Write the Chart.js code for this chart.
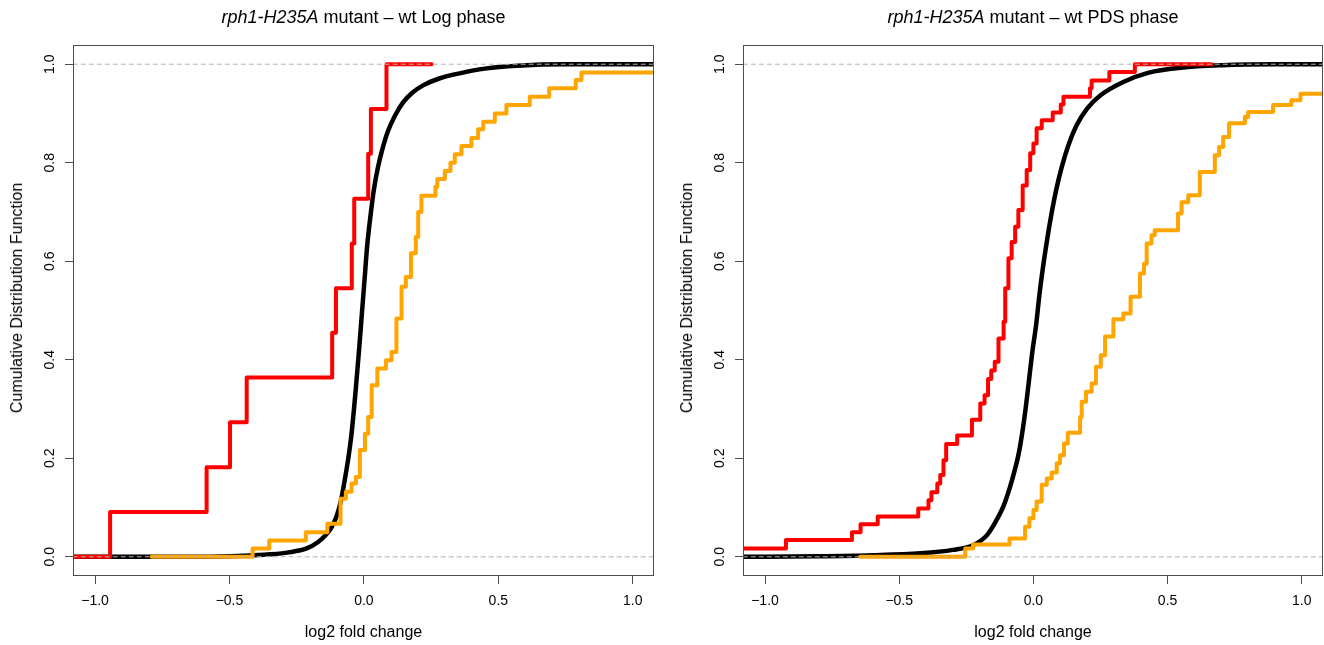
<!DOCTYPE html>
<html>
<head>
<meta charset="utf-8">
<script src="https://cdn.jsdelivr.net/npm/chart.js@4"></script>
<style>
html,body{margin:0;padding:0;background:#fff;}
#wrap{position:relative;width:1324px;height:645px;overflow:hidden;background:#fff;}
canvas{position:absolute;top:0;}
.title{position:absolute;top:6px;font-family:'Liberation Sans',Arial,Helvetica,sans-serif;font-size:18px;line-height:22px;color:#000;white-space:nowrap;transform:translateX(-50%);}
.ylab{position:absolute;font-family:'Liberation Sans',Arial,Helvetica,sans-serif;font-size:16px;line-height:20px;color:#000;white-space:nowrap;transform:translate(-50%,-50%) rotate(-90deg);}
</style>
</head>
<body>
<div id="wrap">
  <canvas id="cLog" width="662" height="645" style="left:0"></canvas>
  <canvas id="cPds" width="662" height="645" style="left:662px"></canvas>
  <div class="title" id="tLog" style="left:363.5px"></div>
  <div class="title" id="tPds" style="left:1033px"></div>
  <div class="ylab" id="yLog" style="left:17px;top:298px"></div>
  <div class="ylab" id="yPds" style="left:687px;top:298px"></div>
</div>
<script>
// ---------- data ----------
const titleItalic = ['rph1-H235A', 'rph1-H235A'];
const titleRest = [' mutant \u2013 wt Log phase', ' mutant \u2013 wt PDS phase'];
const xAxisTitle = 'log2 fold change';
const yAxisTitle = 'Cumulative Distribution Function';
const xTicks = [-1.0, -0.5, 0.0, 0.5, 1.0];
const yTicks = [0.0, 0.2, 0.4, 0.6, 0.8, 1.0];
const refLineX = [-1.2, 1.2];

// Log phase
const logRedX = [-1.10, -0.944, -0.585, -0.498, -0.436, -0.118, -0.104, -0.045, -0.036, 0.016, 0.026, 0.084, 0.252];
const logRedY = [0, 0.091, 0.182, 0.273, 0.364, 0.455, 0.545, 0.636, 0.727, 0.818, 0.909, 1.0, 1.0];
const logOrangeX = [-0.789, -0.414, -0.352, -0.216, -0.136, -0.087, -0.067, -0.046, -0.030, -0.015, 0.004, 0.016, 0.029, 0.050, 0.082, 0.103, 0.121, 0.140, 0.156, 0.175, 0.193, 0.202, 0.214, 0.266, 0.273, 0.301, 0.322, 0.338, 0.363, 0.400, 0.425, 0.444, 0.487, 0.530, 0.617, 0.689, 0.788, 0.809, 1.10];
const logOrangeY = [0, 0.017, 0.033, 0.050, 0.067, 0.118, 0.132, 0.149, 0.162, 0.217, 0.250, 0.284, 0.348, 0.382, 0.399, 0.416, 0.484, 0.548, 0.568, 0.616, 0.649, 0.700, 0.733, 0.751, 0.767, 0.783, 0.800, 0.817, 0.834, 0.850, 0.868, 0.883, 0.900, 0.917, 0.934, 0.951, 0.968, 0.983, 0.983];
const logBlackX = [-1.10, -0.60, -0.45, -0.35, -0.28, -0.213, -0.17, -0.142, -0.12, -0.100, -0.085, -0.070, -0.058, -0.045, -0.030, -0.018, -0.008, 0.002, 0.012, 0.024, 0.037, 0.052, 0.070, 0.090, 0.115, 0.145, 0.18, 0.22, 0.28, 0.36, 0.45, 0.57, 0.75, 1.10];
const logBlackY = [0, 0.0, 0.002, 0.005, 0.009, 0.017, 0.030, 0.044, 0.060, 0.085, 0.115, 0.160, 0.200, 0.255, 0.342, 0.420, 0.490, 0.560, 0.630, 0.690, 0.745, 0.790, 0.830, 0.865, 0.895, 0.922, 0.942, 0.957, 0.971, 0.982, 0.991, 0.997, 1.0, 1.0];

// PDS phase
const pdsRedX = [-1.10, -0.922, -0.676, -0.644, -0.580, -0.429, -0.391, -0.380, -0.358, -0.347, -0.335, -0.325, -0.284, -0.229, -0.198, -0.182, -0.169, -0.157, -0.144, -0.130, -0.111, -0.105, -0.093, -0.081, -0.068, -0.056, -0.040, -0.025, -0.012, 0.000, 0.012, 0.031, 0.072, 0.102, 0.112, 0.211, 0.217, 0.283, 0.378, 0.664];
const pdsRedY = [0.017, 0.034, 0.050, 0.066, 0.082, 0.098, 0.115, 0.131, 0.149, 0.166, 0.196, 0.229, 0.246, 0.278, 0.311, 0.328, 0.361, 0.378, 0.396, 0.443, 0.477, 0.545, 0.606, 0.639, 0.670, 0.704, 0.754, 0.785, 0.819, 0.839, 0.870, 0.886, 0.902, 0.918, 0.934, 0.951, 0.967, 0.984, 1.0, 1.0];
const pdsOrangeX = [-0.645, -0.254, -0.225, -0.089, -0.031, -0.015, 0.000, 0.012, 0.031, 0.050, 0.068, 0.087, 0.099, 0.114, 0.128, 0.174, 0.180, 0.196, 0.217, 0.233, 0.251, 0.267, 0.298, 0.335, 0.362, 0.397, 0.412, 0.422, 0.440, 0.452, 0.539, 0.552, 0.577, 0.620, 0.676, 0.692, 0.707, 0.729, 0.788, 0.800, 0.893, 0.961, 0.995, 1.10];
const pdsOrangeY = [0, 0.017, 0.025, 0.037, 0.061, 0.078, 0.095, 0.112, 0.146, 0.159, 0.171, 0.190, 0.206, 0.230, 0.252, 0.284, 0.315, 0.335, 0.352, 0.386, 0.409, 0.447, 0.482, 0.494, 0.528, 0.575, 0.595, 0.636, 0.653, 0.663, 0.697, 0.720, 0.734, 0.781, 0.815, 0.832, 0.852, 0.880, 0.893, 0.903, 0.917, 0.927, 0.940, 0.940];
const pdsBlackX = [-1.10, -0.80, -0.60, -0.42, -0.30, -0.223, -0.173, -0.140, -0.110, -0.087, -0.070, -0.056, -0.042, -0.028, -0.015, -0.003, 0.010, 0.022, 0.035, 0.050, 0.067, 0.085, 0.105, 0.130, 0.160, 0.200, 0.250, 0.335, 0.430, 0.550, 0.700, 0.900, 1.10];
const pdsBlackY = [0, 0.001, 0.003, 0.007, 0.014, 0.024, 0.044, 0.072, 0.105, 0.142, 0.175, 0.206, 0.250, 0.305, 0.365, 0.420, 0.470, 0.530, 0.585, 0.640, 0.695, 0.745, 0.790, 0.835, 0.875, 0.910, 0.937, 0.964, 0.983, 0.993, 0.998, 1.0, 1.0];

// ---------- rendering ----------
document.getElementById('tLog').innerHTML = '<i>' + titleItalic[0] + '</i>' + titleRest[0];
document.getElementById('tPds').innerHTML = '<i>' + titleItalic[1] + '</i>' + titleRest[1];
document.getElementById('yLog').textContent = yAxisTitle;
document.getElementById('yPds').textContent = yAxisTitle;

Chart.defaults.font.family = "'Liberation Sans', Arial, Helvetica, sans-serif";
Chart.defaults.color = '#000';

function pts(xs, ys) { return xs.map((x, i) => ({ x: x, y: ys[i] })); }
function fmt(v) {
  const a = Math.abs(v).toFixed(1);
  return v < -1e-9 ? '\u2212' + a : a;
}

const boxPlugin = {
  id: 'rbox',
  afterDraw(chart) {
    const { ctx, chartArea: a } = chart;
    ctx.save();
    ctx.strokeStyle = '#4d4d4d';
    ctx.lineWidth = 1;
    ctx.strokeRect(Math.round(a.left) + 0.5, Math.round(a.top) + 0.5,
                   Math.round(a.right - a.left) - 1, Math.round(a.bottom - a.top) - 1);
    ctx.restore();
  }
};

function makeChart(id, s, yW, padRight) {
  return new Chart(document.getElementById(id), {
    type: 'line',
    data: {
      datasets: [
        { label: 'y0', data: pts(refLineX, [0, 0]), borderColor: '#b3b3b3', borderWidth: 1, borderDash: [4, 4], order: 0 },
        { label: 'y1', data: pts(refLineX, [1, 1]), borderColor: '#b3b3b3', borderWidth: 1, borderDash: [4, 4], order: 0 },
        { label: 'red', data: pts(s.redX, s.redY), borderColor: '#ff0000', borderWidth: 4, stepped: true, order: 1 },
        { label: 'orange', data: pts(s.orangeX, s.orangeY), borderColor: '#ffa500', borderWidth: 4, stepped: true, order: 2 },
        { label: 'all', data: pts(s.blackX, s.blackY), borderColor: '#000000', borderWidth: 4.5, cubicInterpolationMode: 'monotone', order: 3 }
      ]
    },
    options: {
      responsive: false,
      animation: false,
      events: [],
      elements: {
        point: { radius: 0, hoverRadius: 0 },
        line: { tension: 0, borderCapStyle: 'round', borderJoinStyle: 'round', fill: false }
      },
      plugins: { legend: { display: false }, tooltip: { enabled: false }, title: { display: false } },
      layout: { padding: { top: 45, right: padRight, bottom: 0, left: 0 } },
      scales: {
        x: {
          type: 'linear',
          min: -1.082, max: 1.079,
          afterBuildTicks: (ax) => { ax.ticks = xTicks.map(v => ({ value: v })); },
          afterFit: (ax) => { ax.height = 69; },
          ticks: { callback: (v) => fmt(v), font: { size: 14 }, color: '#000', padding: 9, maxRotation: 0, minRotation: 0, autoSkip: false },
          grid: { display: true, drawOnChartArea: false, drawTicks: true, tickLength: 8, color: '#4d4d4d', lineWidth: 1 },
          border: { display: false },
          title: { display: true, text: xAxisTitle, font: { size: 16 }, color: '#000', padding: { top: 0, bottom: 3 } }
        },
        y: {
          type: 'linear',
          min: -0.039, max: 1.039,
          afterBuildTicks: (ax) => { ax.ticks = yTicks.map(v => ({ value: v })); },
          afterFit: (ax) => { ax.width = yW; },
          ticks: { callback: (v) => fmt(v), font: { size: 14 }, color: '#000', padding: 5, minRotation: 90, maxRotation: 90, crossAlign: 'center', autoSkip: false },
          grid: { display: true, drawOnChartArea: false, drawTicks: true, tickLength: 8, color: '#4d4d4d', lineWidth: 1 },
          border: { display: false },
          title: { display: false }
        }
      }
    },
    plugins: [boxPlugin]
  });
}

makeChart('cLog', { redX: logRedX, redY: logRedY, orangeX: logOrangeX, orangeY: logOrangeY, blackX: logBlackX, blackY: logBlackY }, 73, 8);
makeChart('cPds', { redX: pdsRedX, redY: pdsRedY, orangeX: pdsOrangeX, orangeY: pdsOrangeY, blackX: pdsBlackX, blackY: pdsBlackY }, 81, 1);
</script>
</body>
</html>
